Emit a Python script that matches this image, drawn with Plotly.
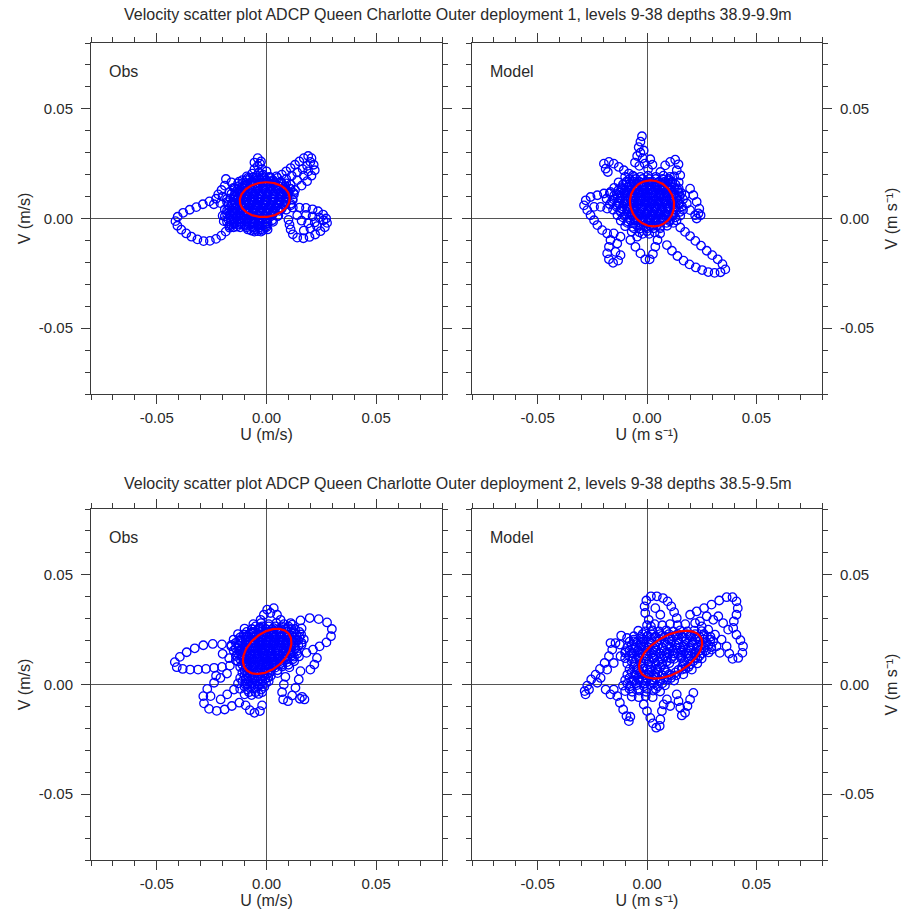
import numpy as np
import plotly.graph_objects as go

# Velocity samples (u, v) in mm/s, converted to m/s when plotted.
obs1_pts = [
    # western loop
    (-20,10),(-23,9),(-26,7.8),(-29,6.5),(-32,5.2),(-35,4),(-38,2.6),(-40.5,0.8),(-41.5,-1.2),
    (-40.6,-3.3),(-38.8,-5.1),(-36.6,-6.8),(-34.2,-8.3),(-31.5,-9.5),(-28.7,-10.3),(-25.8,-10.2),
    (-23,-9.3),(-20.6,-7.8),(-18.6,-6),(-16.8,-4.2),(-15,-2.5),(-24,6.5),(-21,7),(-18,7.5),
    # north-east arm
    (4,15),(6.5,16.5),(9,18),(11.5,19.5),(14,21),(16.5,22.5),(18.5,24),(20,25.8),(20.5,27.5),
    (19,28.5),(17,27.5),(15,26),(13,24.5),(11,23),(9,21.5),(7,20),(5,18.5),(3,17),
    (7,10),(10,11.5),(13,13),(16,15),(18.5,17),(20.5,19.5),(22,22),(21.5,24.5),
    (8,13),(11,15.5),(14,17.5),(17,19.5),(19,21.5),
    # northern lobe
    (-4,27.5),(-2.5,26),(-5.5,25.5),(-4,24),(-2,22.5),(-5.5,22.5),(-3.5,21),(-1.5,20),(-4.5,19.5),
    (-3,18),(-0.5,17.5),(0,21.5),(-6.5,20.5),(1.5,19),(-3,25),
    # eastern loop
    (9,4),(12,5),(15,5),(18,4.8),(21,4.2),(23.5,3.3),(25.8,1.8),(27.2,0),(27.6,-2),(26.6,-4),
    (24.6,-5.8),(22.2,-7.3),(19.6,-8.4),(16.8,-9),(14,-8.7),(12,-7.2),(11,-5),(10.5,-2.8),(10,-0.6),
    (21,1),(24,0.5),(26,-0.8),(22,-1.8),(19,-2.2),(16,-1),(14,1.5),(18,1.6),(20,-4.5),(23,-3.5),(17,-5.5),
    # north-west scatter
    (-17,12),(-15,14),(-13,16),(-11,17.5),(-8.5,18.5),(-14,10),(-12,12.5),(-18,9),(-10,15),(-7,16.5),
    (-19,15),(-16,16.5),(-20.5,13),(-22,11),(-18.5,18),
    # core
    (-9,19.2),(-6,18.8),(-2,19.5),(1.5,18.7),(4.5,19.2),
    (-12.5,16.8),(-9.5,16.2),(-6.5,16.7),(-3.2,16.1),(0.2,16.6),(3.3,16.2),(6.5,16.8),(9,16),
    (-14.5,13.8),(-11.2,14.3),(-8,13.7),(-4.8,14.2),(-1.6,13.8),(1.6,14.3),(4.8,13.7),(8,14.2),(10.8,13.6),
    (-16,11.3),(-13,11.8),(-9.8,11.2),(-6.6,11.7),(-3.4,11.3),(-0.2,11.8),(3,11.2),(6.2,11.7),(9.4,11.3),(12.3,11.7),
    (-16.5,9.2),(-13.4,8.8),(-10.3,9.3),(-7.2,8.8),(-4,9.2),(-0.8,8.8),(2.4,9.3),(5.6,8.8),(8.8,9.2),(11.8,8.8),
    (-17.5,6.3),(-14.3,6.8),(-11.2,6.2),(-8,6.7),(-4.8,6.3),(-1.6,6.8),(1.6,6.2),(4.8,6.7),(8,6.3),(11,6.7),
    (-19,4.2),(-15.8,3.8),(-12.6,4.3),(-9.4,3.8),(-6.2,4.2),(-3,3.8),(0.2,4.3),(3.4,3.8),(6.6,4.2),
    (-20,1.3),(-16.8,1.8),(-13.6,1.2),(-10.4,1.7),(-7.2,1.3),(-4,1.8),(-0.8,1.2),(2.4,1.7),(5.4,1.3),
    (-19.5,-1.2),(-16.3,-0.8),(-13.1,-1.3),(-9.9,-0.8),(-6.7,-1.2),(-3.5,-0.8),(-0.3,-1.3),(2.6,-0.8),
    (-17,-3.3),(-13.5,-3.7),(-10,-3.3),(-6.8,-3.7),(-3.6,-3.3),(-0.5,-3.7),
    (-7,-5.5),(-4,-5.8),(-1.5,-5.3),
    (-12.5,12.7),(-9.5,12.7),(-6.5,12.7),(-3.5,12.7),(-0.5,12.7),(2.5,12.7),(5.5,12.7),(8.5,12.7),
    (-12,10.2),(-9,10.2),(-6,10.2),(-3,10.2),(0,10.2),(3,10.2),(6,10.2),(9,10.2),
    (-12,7.7),(-9,7.7),(-6,7.7),(-3,7.7),(0,7.7),(3,7.7),(6,7.7),(9,7.7),
    (-14,5.2),(-11,5.2),(-8,5.2),(-5,5.2),(-2,5.2),(1,5.2),(4,5.2),
    (-15,2.7),(-12,2.7),(-9,2.7),(-6,2.7),(-3,2.7),(0,2.7),(3,2.7),
    (-15,0.2),(-12,0.2),(-9,0.2),(-6,0.2),(-3,0.2),(0,0.2),
    (-14.5,-2.3),(-11.5,-2.3),(-8.5,-2.3),(-5.5,-2.3),(-2.5,-2.3),(0.5,-2.3),
]
# densely sampled centre, listed as (v, [u, ...]) rows in mm/s
obs1_core_rows = [
    (18.5, [-7.5,-4.5,-1.5,1.5]),
    (17.5, [-9,-6,-3,0,3]),
    (16.0, [-11,-8,-5,-2,1,4,7]),
    (14.8, [-12.5,-9.5,-6.5,-3.5,-0.5,2.5,5.5,8.5]),
    (13.5, [-13,-10,-7,-4,-1,2,5,8,11]),
    (12.2, [-14,-11,-8,-5,-2,1,4,7,10]),
    (11.0, [-14.5,-11.5,-8.5,-5.5,-2.5,0.5,3.5,6.5,9.5,12.5]),
    (9.7, [-14.5,-11.5,-8.5,-5.5,-2.5,0.5,3.5,6.5,9.5]),
    (8.5, [-15,-12,-9,-6,-3,0,3,6,9,12]),
    (7.2, [-15.5,-12.5,-9.5,-6.5,-3.5,-0.5,2.5,5.5,8.5]),
    (6.0, [-16,-13,-10,-7,-4,-1,2,5,8,11]),
    (4.7, [-17,-14,-11,-8,-5,-2,1,4,7]),
    (3.5, [-18,-15,-12,-9,-6,-3,0,3,6]),
    (2.2, [-18,-15,-12,-9,-6,-3,0,3]),
    (1.0, [-19,-16,-13,-10,-7,-4,-1,2,5]),
    (-0.3, [-17.5,-14.5,-11.5,-8.5,-5.5,-2.5,0.5]),
    (-1.5, [-18,-15,-12,-9,-6,-3,0,3]),
    (-2.8, [-16,-13,-10,-7,-4,-1]),
    (-4.0, [-15,-12,-9,-6,-3,0]),
    (-5.0, [-8.5,-5.5,-2.5,0.5]),
    (-6.0, [-5.5,-2.5]),
]

model1_pts = [
    # northern spike
    (-2.3,37.5),(-3,35),(-3.8,32.5),(-3,30),(-2,27.5),(-1,25),(-3.5,24),(0.5,22.5),(-4.5,28.5),
    (-1.5,31),(1.5,27),(2.5,24.5),(-5.5,25.5),
    # north-west curl
    (-19.7,25),(-17.4,25.8),(-15.2,25),(-12.9,23.5),(-10.6,22),(-8.3,20.5),(-6,19),(-18.9,22.7),(-17.9,21.2),
    # western loop
    (-28,8.3),(-28.8,6),(-27.3,3.8),(-25.8,1.5),(-24.2,-0.8),(-22.7,-3),(-20.5,-5.3),(-18.2,-6.8),
    (-25.8,9.8),(-22.7,10.6),(-19.7,11.4),(-16.7,12.1),(-24.2,5.3),(-21.2,5.3),(-18.2,4.5),
    # south-west loop
    (-16.7,-9.8),(-17.4,-12.9),(-18.2,-15.9),(-17.4,-18.6),(-15.5,-20.2),(-13.2,-19.2),(-12.1,-16.7),
    (-14.4,-15.2),(-13.6,-11.4),(-12.1,-8.3),(-15.2,-6.8),
    # southern loop
    (-7.6,-9.8),(-5.3,-12.9),(-3,-15.9),(-0.8,-18.6),(1.2,-18.6),(2.7,-16.2),(3.8,-12.9),(4.8,-9.8),
    (6,-6.8),(-4.5,-8.3),
    # south-east arm
    (9.1,-12.1),(11.4,-14.7),(13.9,-17.1),(16.7,-19.2),(19.4,-20.9),(22.3,-22.3),(25.2,-23.5),(28,-24.4),
    (30.9,-24.8),(33.6,-24.5),(35.8,-23.2),(34.5,-20.8),(32.3,-18.6),(29.8,-16.7),(27.3,-14.7),(24.7,-12.4),
    (22.1,-10.2),(19.7,-8),(17.4,-6.1),(15.2,-4.1),
    # north-east loop
    (10.6,25.8),(12.9,26.8),(14.4,24.7),(13.6,22),(12.4,19.2),(8.3,24.2),(6.1,21.2),(9.8,17.4),(15.2,19.7),
    # eastern lobe
    (19.7,13.6),(21.2,10.6),(22.7,7.6),(23.9,4.5),(24.5,1.5),(22,1.5),(19.7,3.8),(18.2,6.8),(17.4,10.6),
    (23.5,2.3),(22.7,0),
    # core
    (-10,19),(-6.5,19.5),(-3,19),(0.5,19.5),(4,19),(7.5,19.5),(10.5,19),
    (-13,16.5),(-9.5,16.2),(-6,16.7),(-2.5,16.2),(1,16.7),(4.5,16.2),(8,16.7),(11.5,16.2),(14.5,16.5),
    (-15,14),(-11.8,13.7),(-8.5,14.2),(-5.2,13.7),(-2,14.2),(1.3,13.7),(4.6,14.2),(7.9,13.7),(11.2,14.2),(14.5,13.7),
    (-17,11.5),(-13.8,11.2),(-10.5,11.7),(-7.2,11.2),(-4,11.7),(-0.7,11.2),(2.6,11.7),(5.9,11.2),(9.2,11.7),(12.5,11.2),(15.7,11.6),
    (-18.5,9),(-15.2,8.7),(-12,9.2),(-8.8,8.7),(-5.6,9.2),(-2.4,8.7),(0.8,9.2),(4,8.7),(7.2,9.2),(10.4,8.7),(13.6,9.2),(16.5,8.8),
    (-17,6.5),(-13.8,6.2),(-10.6,6.7),(-7.4,6.2),(-4.2,6.7),(-1,6.2),(2.2,6.7),(5.4,6.2),(8.6,6.7),(11.8,6.2),(15,6.6),
    (-15.5,4),(-12.3,3.7),(-9.1,4.2),(-5.9,3.7),(-2.7,4.2),(0.5,3.7),(3.7,4.2),(6.9,3.7),(10.1,4.2),(13.3,3.7),(16.5,4),
    (-13.5,1.5),(-10.3,1.2),(-7.1,1.7),(-3.9,1.2),(-0.7,1.7),(2.5,1.2),(5.7,1.7),(8.9,1.2),(12.1,1.7),(15.2,1.3),
    (-12,-1),(-8.8,-1.3),(-5.6,-0.8),(-2.4,-1.3),(0.8,-0.8),(4,-1.3),(7.2,-0.8),(10.4,-1.3),(13.5,-0.9),
    (-10,-3.5),(-6.8,-3.8),(-3.6,-3.3),(-0.4,-3.8),(2.8,-3.3),(6,-3.8),(9.2,-3.3),
    (-7,-6),(-3.5,-6.3),(0,-5.8),(3.5,-6.3),
    (-7,15.3),(-4,15.3),(-1,15.3),(2,15.3),(5,15.3),(8,15.3),
    (-8,12.8),(-5,12.8),(-2,12.8),(1,12.8),(4,12.8),(7,12.8),(10,12.8),
    (-9,10.3),(-6,10.3),(-3,10.3),(0,10.3),(3,10.3),(6,10.3),(9,10.3),(12,10.3),
    (-9,7.8),(-6,7.8),(-3,7.8),(0,7.8),(3,7.8),(6,7.8),(9,7.8),(12,7.8),
    (-8,5.3),(-5,5.3),(-2,5.3),(1,5.3),(4,5.3),(7,5.3),(10,5.3),
    (-7,2.8),(-4,2.8),(-1,2.8),(2,2.8),(5,2.8),(8,2.8),
    (-5,0.3),(-2,0.3),(1,0.3),(4,0.3),(7,0.3),
]
model1_core_rows = [
    (18.0, [-8,-5,-2,1,4,7,10]),
    (16.8, [-9.5,-6.5,-3.5,-0.5,2.5,5.5,8.5,11.5]),
    (15.5, [-11,-8,-5,-2,1,4,7,10,13]),
    (14.3, [-11.5,-8.5,-5.5,-2.5,0.5,3.5,6.5,9.5,12.5]),
    (13.0, [-13,-10,-7,-4,-1,2,5,8,11,14]),
    (11.8, [-12.5,-9.5,-6.5,-3.5,-0.5,2.5,5.5,8.5,11.5,14.5]),
    (10.5, [-15,-12,-9,-6,-3,0,3,6,9,12,15]),
    (9.3, [-13.5,-10.5,-7.5,-4.5,-1.5,1.5,4.5,7.5,10.5,13.5]),
    (8.0, [-16,-13,-10,-7,-4,-1,2,5,8,11,14]),
    (6.8, [-12.5,-9.5,-6.5,-3.5,-0.5,2.5,5.5,8.5,11.5,14.5]),
    (5.5, [-14,-11,-8,-5,-2,1,4,7,10,13,16]),
    (4.3, [-11.5,-8.5,-5.5,-2.5,0.5,3.5,6.5,9.5,12.5]),
    (3.0, [-12,-9,-6,-3,0,3,6,9,12,15]),
    (1.8, [-9.5,-6.5,-3.5,-0.5,2.5,5.5,8.5,11.5]),
    (0.5, [-11,-8,-5,-2,1,4,7,10,13]),
    (-0.7, [-7.5,-4.5,-1.5,1.5,4.5,7.5,10.5]),
    (-2.0, [-9,-6,-3,0,3,6,9,12]),
    (-3.2, [-4.5,-1.5,1.5,4.5]),
    (-4.5, [-6,-3,0,3,6]),
    (-7.0, [-2,1]),
]

obs2_pts = [
    # western loop
    (-11.8,15.9),(-16.1,17.4),(-20.3,18.3),(-24.5,18.5),(-28.8,17.9),(-32.7,16.5),(-36.4,14.7),(-39.5,12.6),
    (-41.8,10.2),(-40.9,7.9),(-38.2,7.1),(-34.8,6.8),(-31.2,6.8),(-27.6,7.1),(-23.9,7.6),(-20.3,8),(-16.7,8.6),
    # south-west loop
    (-23.9,0.8),(-27,-2),(-28.8,-5.3),(-28.5,-8.6),(-26.2,-11.1),(-22.7,-12),(-19.1,-11.4),(-15.8,-9.8),
    (-12.4,-8.3),(-9.5,-9.5),(-7.6,-11.7),(-5.5,-12.9),(-3,-12.1),(-2,-9.5),(-20.9,-6.8),(-17.9,-4.5),
    (-14.8,-2.3),(-25.5,-5.3),
    # north-east loop
    (11.7,27.3),(15.5,29.2),(19.7,30.3),(23.8,29.8),(27.6,28.3),(29.8,25.3),(29.4,22),(27.3,19.2),
    (24.2,17.4),(21.2,15.9),(18.2,14.4),(23,12.1),(21.8,9.1),(20,6.8),
    # south-east loop
    (15.5,6.1),(14.7,2.3),(13.2,-1.5),(11.7,-5),(9.8,-7.6),(7.6,-6.8),(7.1,-3.5),(7.9,0),(8.6,3.5),
    (16.2,-5.6),(17.3,-6.8),(15.2,-6.5),
    # northern lobe
    (0.3,34.1),(3.3,34.8),(1.8,32.6),(-1.2,31.8),(4.8,31.8),(6.4,29.5),(-2.7,29.5),
    # western scatter
    (-20,14),(-17,12),(-14,11),(-12,20),(-9,22),(-6,24),(-3,26),(-18,5),(-21,3),(-23,4),
    # core
    (-6,27.5),(-2.5,28),(1,27.5),(4.5,28),(8,27.5),(11,28),
    (-10,25.5),(-6.7,25.2),(-3.4,25.7),(-0.1,25.2),(3.2,25.7),(6.5,25.2),(9.8,25.7),(13,25.3),(16,25.6),
    (-13,23),(-9.8,22.7),(-6.6,23.2),(-3.4,22.7),(-0.2,23.2),(3,22.7),(6.2,23.2),(9.4,22.7),(12.6,23.2),(15.8,22.8),
    (-15,20.5),(-11.8,20.2),(-8.6,20.7),(-5.4,20.2),(-2.2,20.7),(1,20.2),(4.2,20.7),(7.4,20.2),(10.6,20.7),(13.8,20.2),(17,20.6),
    (-16,18),(-12.8,17.7),(-9.6,18.2),(-6.4,17.7),(-3.2,18.2),(0,17.7),(3.2,18.2),(6.4,17.7),(9.6,18.2),(12.8,17.7),(16,18.1),
    (-15,15.5),(-11.8,15.2),(-8.6,15.7),(-5.4,15.2),(-2.2,15.7),(1,15.2),(4.2,15.7),(7.4,15.2),(10.6,15.7),(13.8,15.2),
    (-14,13),(-10.8,12.7),(-7.6,13.2),(-4.4,12.7),(-1.2,13.2),(2,12.7),(5.2,13.2),(8.4,12.7),(11.6,13.2),(14.8,12.8),
    (-13,10.5),(-9.8,10.2),(-6.6,10.7),(-3.4,10.2),(-0.2,10.7),(3,10.2),(6.2,10.7),(9.4,10.2),(12.6,10.6),
    (-12,8),(-8.8,7.7),(-5.6,8.2),(-2.4,7.7),(0.8,8.2),(4,7.7),(7.2,8.2),(10.4,7.8),
    (-11,5.5),(-7.8,5.2),(-4.6,5.7),(-1.4,5.2),(1.8,5.7),(5,5.2),
    (-12,3),(-8.8,2.7),(-5.6,3.2),(-2.4,2.7),(0.8,3.2),
    (-13,0.5),(-9.8,0.2),(-6.6,0.7),(-3.4,0.2),(-0.2,0.7),
    (-12,-2),(-8.8,-2.3),(-5.6,-1.8),(-2.4,-2.3),
    (-10,-4.5),(-6.8,-4.8),(-3.6,-4.3),
    (-8,21.8),(-5,21.8),(-2,21.8),(1,21.8),(4,21.8),(7,21.8),(10,21.8),
    (-9,19.3),(-6,19.3),(-3,19.3),(0,19.3),(3,19.3),(6,19.3),(9,19.3),(12,19.3),
    (-10,16.8),(-7,16.8),(-4,16.8),(-1,16.8),(2,16.8),(5,16.8),(8,16.8),(11,16.8),
    (-10,14.3),(-7,14.3),(-4,14.3),(-1,14.3),(2,14.3),(5,14.3),(8,14.3),(11,14.3),
    (-10,11.8),(-7,11.8),(-4,11.8),(-1,11.8),(2,11.8),(5,11.8),(8,11.8),
    (-9,9.3),(-6,9.3),(-3,9.3),(0,9.3),(3,9.3),(6,9.3),
]
obs2_core_rows = [
    (26.5, [-5,-2,1,4,7,10]),
    (25.2, [-6.5,-3.5,-0.5,2.5,5.5,8.5,11.5]),
    (24.0, [-9,-6,-3,0,3,6,9,12,15]),
    (22.7, [-10.5,-7.5,-4.5,-1.5,1.5,4.5,7.5,10.5,13.5]),
    (21.5, [-12,-9,-6,-3,0,3,6,9,12,15]),
    (20.2, [-12.5,-9.5,-6.5,-3.5,-0.5,2.5,5.5,8.5,11.5,14.5]),
    (19.0, [-14,-11,-8,-5,-2,1,4,7,10,13,16]),
    (17.7, [-12.5,-9.5,-6.5,-3.5,-0.5,2.5,5.5,8.5,11.5,14.5]),
    (16.5, [-14,-11,-8,-5,-2,1,4,7,10,13]),
    (15.2, [-12.5,-9.5,-6.5,-3.5,-0.5,2.5,5.5,8.5,11.5]),
    (14.0, [-13,-10,-7,-4,-1,2,5,8,11,14]),
    (12.7, [-11.5,-8.5,-5.5,-2.5,0.5,3.5,6.5,9.5,12.5]),
    (11.5, [-12,-9,-6,-3,0,3,6,9,12]),
    (10.2, [-10.5,-7.5,-4.5,-1.5,1.5,4.5,7.5]),
    (9.0, [-11,-8,-5,-2,1,4,7,10]),
    (7.7, [-9.5,-6.5,-3.5,-0.5,2.5]),
    (6.5, [-10,-7,-4,-1,2,5]),
    (5.2, [-8.5,-5.5,-2.5,0.5]),
    (4.0, [-10,-7,-4,-1,2]),
    (2.7, [-9.5,-6.5,-3.5,-0.5]),
    (1.5, [-11,-8,-5,-2,1]),
    (0.2, [-8.5,-5.5,-2.5]),
    (-1.0, [-10,-7,-4,-1]),
    (-3.5, [-8,-5,-2]),
]

model2_pts = [
    # northern loop
    (-0.8,32.6),(-1.1,35.6),(-0.3,38.3),(1.8,40.2),(4.5,40.2),(7.3,39.4),(9.4,37.9),(11.1,35.6),(12.4,33),
    (13.6,30.3),(0.8,29.5),(1.8,26.5),(3.8,34.8),(6.1,31.8),
    # north-east loop
    (19.7,31.8),(22.7,33.3),(26.1,34.8),(29.5,36.4),(33,38.3),(36.4,39.8),(39.1,39.8),(40.9,37.9),(41.5,34.8),
    (40.9,31.8),(39.7,28.8),(39.4,25.8),(40.9,22.7),(42.7,20.2),(43.9,17.4),(43.6,14.4),(41.7,12.1),(39.1,11.7),
    (37.6,14.1),(36.4,17.4),(34.1,20.5),(31.1,22.7),(28,25),(25,26.5),(22,28),(32.6,31.1),(34.8,28),(37.1,25),
    (30.3,29.5),(27.3,31.1),(24.2,28.8),(31.8,17.4),(33.3,14.4),(29.5,15.9),
    # western arm
    (-3,18.9),(-6.1,19.7),(-9.1,21.2),(-11.8,22.3),(-14.4,18.9),(-15.9,15.9),(-17.4,12.9),(-19.4,9.8),
    (-21.5,7.1),(-23.5,4.5),(-25.5,2.3),(-27.3,-0.5),(-28.5,-3),(-28.1,-4.5),(-26.5,-2.3),(-15.2,9.8),
    (-12.1,12.9),(-9.8,15.2),(-18.2,6.8),(-21.2,3),(-22.7,0.8),(-12.4,18.2),(-16.7,18.9),
    # south-west loop
    (-15.2,-2.3),(-13.6,-5.3),(-12.4,-8.3),(-10.9,-11.4),(-9.4,-14.4),(-8.3,-16.7),(-7.6,-14.7),
    (-18.9,-2.3),(-16.7,-4.5),
    # southern loop
    (-1.5,-9.1),(0,-12.1),(1.5,-15.2),(2.7,-17.7),(4.2,-19.7),(5.8,-18.9),(6.1,-15.9),(6.8,-12.1),(7.6,-9.1),
    # south-east loop
    (13.6,-4.5),(14.4,-7.6),(15.2,-10.6),(15.9,-14.1),(17.4,-12.9),(18.5,-9.8),(19.7,-6.8),(21.2,-3.8),
    (9.1,-6.8),(10.6,-9.8),
    # core
    (0,27),(3.5,27.5),(7,27),(10.5,27.5),(14,27),(17.5,27.5),
    (-4,24.5),(-0.8,24.2),(2.4,24.7),(5.6,24.2),(8.8,24.7),(12,24.2),(15.2,24.7),(18.4,24.2),(21.6,24.6),(25,24.3),
    (-6,22),(-2.8,21.7),(0.4,22.2),(3.6,21.7),(6.8,22.2),(10,21.7),(13.2,22.2),(16.4,21.7),(19.6,22.2),(22.8,21.7),(26,22.1),(29,21.8),
    (-8,19.5),(-4.8,19.2),(-1.6,19.7),(1.6,19.2),(4.8,19.7),(8,19.2),(11.2,19.7),(14.4,19.2),(17.6,19.7),(20.8,19.2),(24,19.7),(27.2,19.3),(30.2,19.6),
    (-9,17),(-5.8,16.7),(-2.6,17.2),(0.6,16.7),(3.8,17.2),(7,16.7),(10.2,17.2),(13.4,16.7),(16.6,17.2),(19.8,16.7),(23,17.2),(26.2,16.7),(29.4,17.1),
    (-10,14.5),(-6.8,14.2),(-3.6,14.7),(-0.4,14.2),(2.8,14.7),(6,14.2),(9.2,14.7),(12.4,14.2),(15.6,14.7),(18.8,14.2),(22,14.7),(25.2,14.2),(28.2,14.6),
    (-10,12),(-6.8,11.7),(-3.6,12.2),(-0.4,11.7),(2.8,12.2),(6,11.7),(9.2,12.2),(12.4,11.7),(15.6,12.2),(18.8,11.7),(22,12.2),(25,11.8),
    (-9,9.5),(-5.8,9.2),(-2.6,9.7),(0.6,9.2),(3.8,9.7),(7,9.2),(10.2,9.7),(16.6,9.7),(19.8,9.2),(23,9.6),
    (-8,7),(-4.8,6.7),(-1.6,7.2),(1.6,6.7),(4.8,7.2),(8,6.7),(14.4,6.7),(17.6,7.2),(20.5,6.8),
    (-9,4.5),(-5.8,4.2),(-2.6,4.7),(0.6,4.2),(3.8,4.7),(7,4.2),(10.2,4.7),(13.4,4.2),(16.6,4.6),
    (-10,2),(-6.8,1.7),(-3.6,2.2),(-0.4,1.7),(2.8,2.2),(6,1.7),(9.2,2.2),(12.4,1.8),
    (-11,-0.5),(-7.8,-0.8),(-4.6,-0.3),(-1.4,-0.8),(1.8,-0.3),(5,-0.8),(8.2,-0.4),
    (-10,-3),(-6.8,-3.3),(-3.6,-2.8),(-0.4,-3.3),(2.8,-2.8),(6,-3.2),
    (-7,-5.5),(-3.8,-5.8),(-0.6,-5.3),(2.6,-5.8),
]
model2_core_rows = [
    (23.0, [-2,2,6,10,14,18,22,26]),
    (21.8, [0,4,8,12,16,20,24]),
    (20.5, [-6,-2,2,6,10,14,18,22,26,29]),
    (18.0, [-7,-3,1,5,9,13,17,21,25,28]),
    (16.8, [-5,-1,3,7,11,15,19,23]),
    (15.5, [-8,-4,0,4,8,12,16,20,24,27]),
    (14.2, [-6,-2,2,6,10,14,18,22]),
    (13.0, [-8,-4,0,4,8,12,16,20,24]),
    (11.8, [-5,-1,3,7,11,19,23]),
    (10.5, [-7,-3,1,5,9,17,21]),
    (8.0, [-6,-2,2,6,16,19]),
    (6.8, [-4,0,4,8,16]),
    (5.5, [-7,-3,1,5,9,13]),
    (4.2, [-5,-1,3,7,11]),
    (3.0, [-8,-4,0,4,8,11]),
    (1.8, [-6,-2,2,6]),
    (0.5, [-9,-5,-1,3,7]),
    (-2.0, [-8,-4,0,4]),
]

# Variance ellipses: centre u, centre v, semi-major, semi-minor (mm/s), orientation (deg)
obs1_ellipse = (-0.8, 8.6, 11.4, 7.9, 5)
model1_ellipse = (2.3, 6.9, 10.7, 9.9, -60)
obs2_ellipse = (0.3, 15.1, 12.7, 8.2, 40)
model2_ellipse = (10.8, 13.6, 15.9, 8.6, 30)

row_titles = [
    "Velocity scatter plot ADCP Queen Charlotte Outer deployment 1, levels 9-38 depths 38.9-9.9m",
    "Velocity scatter plot ADCP Queen Charlotte Outer deployment 2, levels 9-38 depths 38.5-9.5m",
]
panel_names = ["Obs", "Model", "Obs", "Model"]

AX_RANGE = [-0.08, 0.08]
MAJOR_TICKS = [-0.05, 0.0, 0.05]
MAJOR_TEXT = ["-0.05", "0.00", "0.05"]

W, H = 906, 913
FONT = "Liberation Sans, Arial, Helvetica, sans-serif"
TEXT_COLOR = "#2a2a2a"
AXIS_COLOR = "#3a3a3a"

# plot-area boxes in pixels: left, right, top, bottom
boxes = [
    (91, 442, 43, 394),
    (472, 822, 43, 394),
    (91, 442, 509, 860),
    (472, 822, 509, 860),
]

panels = [
    (obs1_pts, obs1_core_rows, obs1_ellipse, "U (m/s)", "V (m/s)", "left"),
    (model1_pts, model1_core_rows, model1_ellipse, "U (m s⁻¹)", "V (m s⁻¹)", "right"),
    (obs2_pts, obs2_core_rows, obs2_ellipse, "U (m/s)", "V (m/s)", "left"),
    (model2_pts, model2_core_rows, model2_ellipse, "U (m s⁻¹)", "V (m s⁻¹)", "right"),
]


def ellipse_curve(params, n=181):
    cu, cv, a, b, ang = params
    t = np.linspace(0, 2 * np.pi, n)
    th = np.deg2rad(ang)
    x = a * np.cos(t)
    y = b * np.sin(t)
    u = cu + x * np.cos(th) - y * np.sin(th)
    v = cv + x * np.sin(th) + y * np.cos(th)
    return u / 1000.0, v / 1000.0


def all_points(pts, rows):
    out = list(pts)
    for v, us in rows:
        out.extend((u, v) for u in us)
    return np.array(out, dtype=float) / 1000.0


fig = go.Figure()
layout = dict(
    width=W, height=H,
    margin=dict(l=0, r=0, t=0, b=0),
    paper_bgcolor="white", plot_bgcolor="white",
    showlegend=False,
    font=dict(family=FONT, size=15, color=TEXT_COLOR),
)
annotations = []

for i, (pts, rows, ell, xt, yt, yside) in enumerate(panels):
    k = "" if i == 0 else str(i + 1)
    xa, ya = "x" + k, "y" + k
    arr = all_points(pts, rows)
    fig.add_trace(go.Scatter(
        x=arr[:, 0], y=arr[:, 1], mode="markers", xaxis=xa, yaxis=ya,
        marker=dict(symbol="circle-open", size=8.5, color="#0000ff", line=dict(width=1.3, color="#0000ff")),
        hoverinfo="skip",
    ))
    eu, ev = ellipse_curve(ell)
    fig.add_trace(go.Scatter(
        x=eu, y=ev, mode="lines", xaxis=xa, yaxis=ya,
        line=dict(color="#ff0000", width=2.2), hoverinfo="skip",
    ))

    l, r, t, b = boxes[i]
    common = dict(
        range=AX_RANGE, tickmode="array", tickvals=MAJOR_TICKS, ticktext=MAJOR_TEXT,
        ticks="outside", ticklen=9, tickwidth=1, tickcolor=AXIS_COLOR,
        minor=dict(tickmode="linear", tick0=0, dtick=0.01, ticks="outside", ticklen=5,
                   tickwidth=1, tickcolor=AXIS_COLOR, showgrid=False),
        showline=True, linecolor=AXIS_COLOR, linewidth=1, mirror="ticks",
        showgrid=False, zeroline=True, zerolinecolor="#555555", zerolinewidth=1.4,
        tickfont=dict(family=FONT, size=15, color=TEXT_COLOR),
        fixedrange=True,
    )
    layout["xaxis" + k] = dict(
        common, domain=[l / W, r / W], anchor=ya,
        title=dict(text=xt, font=dict(family=FONT, size=16, color=TEXT_COLOR), standoff=0),
        ticklabelstandoff=1,
    )
    layout["yaxis" + k] = dict(
        common, domain=[1 - b / H, 1 - t / H], anchor=xa, side=yside,
        title=dict(text=yt, font=dict(family=FONT, size=16, color=TEXT_COLOR),
                   standoff=4 if yside == "left" else 12),
        ticklabelstandoff=5,
    )
    annotations.append(dict(
        text=panel_names[i], xref=xa + " domain", yref=ya + " domain",
        x=0.047, y=0.92, xanchor="left", yanchor="middle", showarrow=False,
        font=dict(family=FONT, size=16, color=TEXT_COLOR),
    ))

for j, title in enumerate(row_titles):
    y_px = 15 if j == 0 else 483
    annotations.append(dict(
        text=title, xref="paper", yref="paper", x=458 / W, y=1 - y_px / H,
        xanchor="center", yanchor="middle", showarrow=False,
        font=dict(family=FONT, size=16, color=TEXT_COLOR),
    ))

layout["annotations"] = annotations
fig.update_layout(**layout)
fig.write_html("out.html")
